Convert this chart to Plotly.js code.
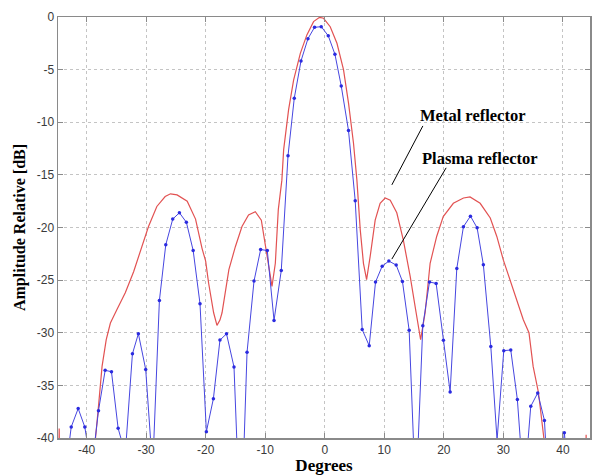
<!DOCTYPE html>
<html><head><meta charset="utf-8">
<script src="https://cdn.plot.ly/plotly-3.0.1.min.js"></script>
<style>html,body{margin:0;padding:0;background:#fff}#chart{width:592px;height:475px}</style>
</head><body><div id="chart"></div>
<script>
// Plasma reflector (blue, sampled with markers)
const plasmaDeg = [-44.8,-43.7,-42.58,-41.41,-40.3,-39.15,-38.0,-36.88,-35.82,-34.7,-33.5,-32.3,-31.3,-30.07,-28.9,-27.77,-26.7,-25.53,-24.41,-23.24,-22.1,-20.95,-19.88,-18.7,-17.6,-16.5,-15.24,-14.1,-13.05,-11.88,-10.77,-9.65,-8.52,-7.3,-6.17,-5.12,-3.99,-2.82,-1.71,-0.59,0.59,1.71,2.77,3.99,5.12,6.29,7.47,8.53,9.65,10.77,12.0,13.05,14.18,15.3,16.47,17.59,18.71,19.93,21.06,22.18,23.29,24.47,25.59,26.64,27.89,28.94,30.07,31.24,32.35,33.47,34.6,35.77,36.9,38.06,39.15,40.24,41.36,42.5,43.6,44.7];
const plasmaDb = [-46,-44,-38.95,-37.2,-38.95,-43,-37.4,-33.57,-33.7,-39.08,-41.5,-32.0,-30.09,-33.48,-43,-26.93,-21.64,-19.2,-18.6,-19.5,-22.18,-27.24,-39.4,-36.26,-30.7,-30.1,-33.25,-50,-31.86,-25.09,-22.1,-22.18,-28.83,-24.08,-13.19,-7.72,-4.18,-2.06,-0.98,-0.92,-1.78,-3.54,-6.55,-10.79,-17.47,-29.7,-31.23,-25.18,-23.67,-23.19,-23.57,-25.12,-29.77,-46,-29.33,-25.18,-25.31,-30.72,-35.63,-23.89,-19.93,-18.92,-20.03,-23.54,-31.3,-40.2,-31.7,-31.64,-36.35,-45,-36.99,-35.72,-38.33,-50,-46,-39.5,-47,-52,-50,-55];

// Metal reflector (red, continuous)
const metalDeg = [-44.75,-44.6,-44.45,-39.0,-38.5,-38.05,-37.4,-36.7,-36.0,-34.9,-33.5,-32.1,-30.7,-29.6,-28.2,-26.8,-25.9,-24.8,-23.1,-21.7,-20.6,-20.0,-19.5,-18.66,-18.1,-17.6,-17.25,-16.1,-15.0,-13.9,-12.8,-11.66,-10.65,-10.0,-9.3,-8.86,-8.3,-7.8,-7.2,-6.9,-6.07,-5.23,-4.1,-3.0,-1.88,-0.87,-0.2,0.92,2.05,3.15,4.0,4.83,5.4,5.96,6.5,7.03,7.63,8.47,9.3,10.15,11.0,12.1,13.2,14.35,15.35,16.1,16.86,17.7,18.8,19.9,21.6,23.3,24.4,26.1,27.8,28.9,30.0,31.1,32.25,33.35,34.3,35.0,35.9,36.4,36.8,37.3,43.75,43.9,44.05];
const metalDb = [-46,-39.1,-46,-48,-40,-37.3,-33.2,-30.66,-29.08,-27.8,-26.2,-24.2,-21.8,-19.9,-18.0,-17.06,-16.8,-16.9,-17.5,-19.2,-22.0,-23.2,-25.3,-28.1,-29.3,-28.8,-28.1,-24.0,-21.8,-19.9,-18.8,-18.5,-19.3,-21.5,-24.3,-25.6,-23.4,-18.3,-15.5,-12.6,-8.8,-6.0,-3.45,-1.7,-0.44,-0.03,-0.12,-0.92,-2.5,-5.0,-8.2,-12.0,-15.5,-20.2,-23.4,-24.95,-22.75,-19.3,-17.7,-17.2,-17.4,-18.6,-21.2,-24.65,-28.1,-30.66,-28.1,-23.4,-20.85,-18.96,-17.7,-17.2,-17.1,-17.7,-19.1,-20.85,-23.1,-24.96,-26.86,-28.76,-30.0,-33.2,-35.7,-38.25,-40,-46,-46,-39.7,-46];

const xTickVals = [-40,-30,-20,-10,0,10,20,30,40];
const xTickText = ["-40","-30","-20","-10","0","10","20","30","40"];
const yTickVals = [0,-5,-10,-15,-20,-25,-30,-35,-40];
const yTickText = ["0","-5","-10","-15","-20","-25","-30","-35","-40"];

const seriesNames = ["Metal reflector","Plasma reflector"];
const labelDeg = [24.9, 26.0];
const labelDb = [-9.4, -13.4];
const leaderStartDeg = [16.48, 20.39];
const leaderStartDb = [-10.35, -14.33];
const leaderEndDeg = [11.27, 11.27];
const leaderEndDb = [-15.95, -23.0];

const serif = "'Liberation Serif','Times New Roman',serif";

const traces = [
  {x: metalDeg, y: metalDb, type: 'scatter', mode: 'lines', name: seriesNames[0],
   line: {color: '#e25252', width: 1.2}},
  {x: plasmaDeg, y: plasmaDb, type: 'scatter', mode: 'lines+markers', name: seriesNames[1],
   line: {color: '#4646e0', width: 1}, marker: {color: '#2a2ae0', size: 3.5}}
];

const axisCommon = {
  showline: true, linecolor: '#8a8a8a', linewidth: 1.5, mirror: 'ticks',
  ticks: 'inside', ticklen: 5, tickcolor: '#8a8a8a', tickwidth: 1,
  showgrid: true, gridcolor: '#c4c4c4', griddash: 'dot', gridwidth: 1,
  zeroline: false, tickfont: {family: "'Liberation Sans',Arial,sans-serif", size: 12, color: '#3a3a3a'}
};

const layout = {
  width: 592, height: 475,
  margin: {l: 58, r: 2, t: 17, b: 37},
  paper_bgcolor: '#fff', plot_bgcolor: '#fff',
  showlegend: false,
  xaxis: Object.assign({}, axisCommon, {
    range: [-44.8, 44.55], tickvals: xTickVals, ticktext: xTickText,
    title: {text: 'Degrees', font: {family: serif, size: 17, color: '#000', weight: 'bold'}, standoff: 4}
  }),
  yaxis: Object.assign({}, axisCommon, {
    range: [-40, 0], tickvals: yTickVals, ticktext: yTickText,
    title: {text: 'Amplitude Relative [dB]', font: {family: serif, size: 16, color: '#000', weight: 'bold'}, standoff: 7}
  }),
  annotations: seriesNames.map((t, i) => ({
    x: labelDeg[i], y: labelDb[i], xref: 'x', yref: 'y', text: '<b>' + t + '</b>', showarrow: false,
    font: {family: serif, size: 16.5, color: '#000'}
  })),
  shapes: seriesNames.map((t, i) => ({
    type: 'line', xref: 'x', yref: 'y',
    x0: leaderStartDeg[i], y0: leaderStartDb[i], x1: leaderEndDeg[i], y1: leaderEndDb[i],
    line: {color: '#000', width: 1}
  }))
};

Plotly.newPlot('chart', traces, layout, {staticPlot: true, displayModeBar: false});
</script>
</body></html>
